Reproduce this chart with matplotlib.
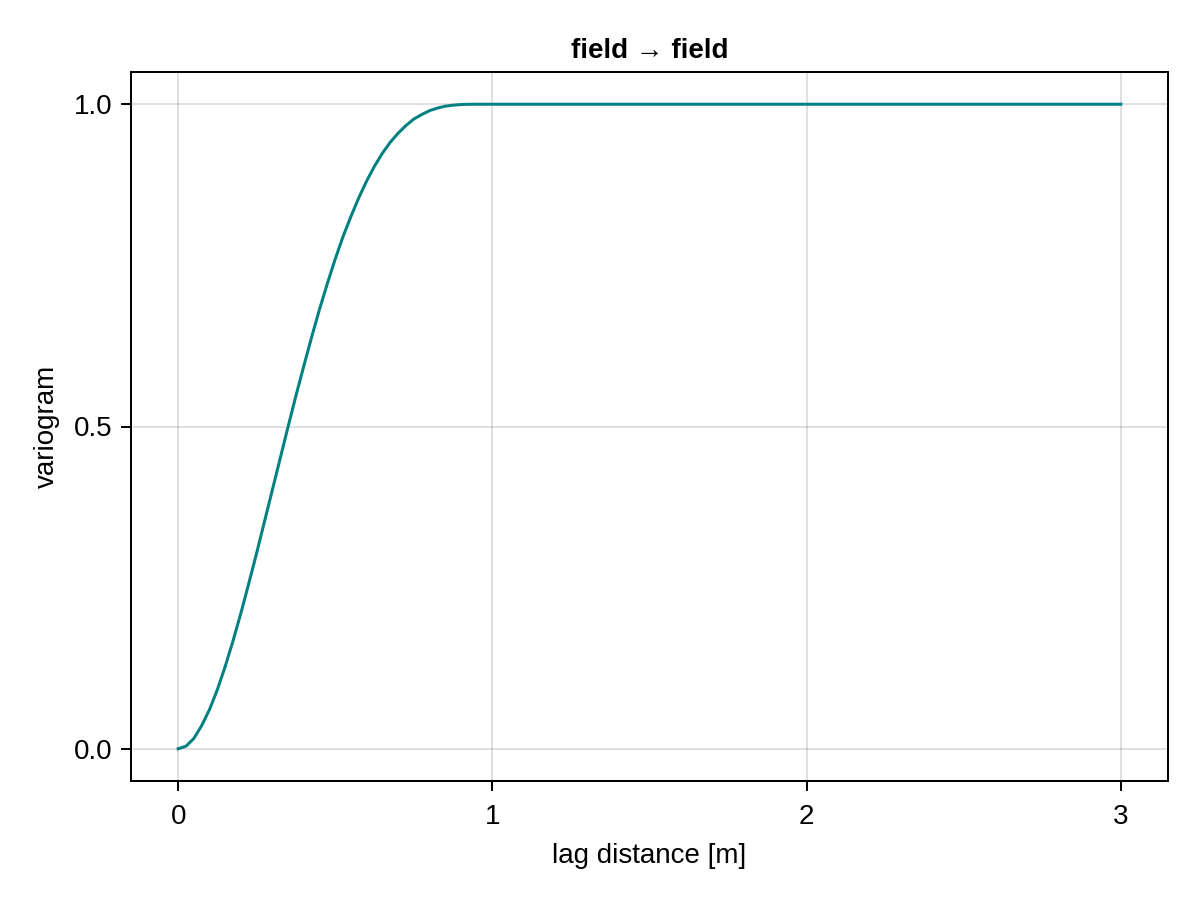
import matplotlib
matplotlib.use("Agg")
import matplotlib.pyplot as plt

plt.rcParams['font.family'] = ['Liberation Sans', 'DejaVu Sans']

# values
lag = [0.0, 0.025, 0.05, 0.075, 0.10, 0.125, 0.15, 0.175, 0.20, 0.225, 0.25,
       0.275, 0.30, 0.325, 0.35, 0.375, 0.40, 0.425, 0.45, 0.475, 0.50,
       0.525, 0.55, 0.575, 0.60, 0.625, 0.65, 0.675, 0.70, 0.725, 0.75,
       0.775, 0.80, 0.825, 0.85, 0.875, 0.90, 0.925, 0.95, 1.0, 2.0, 3.0]
gamma = [0.0, 0.004, 0.016, 0.036, 0.061, 0.092, 0.128, 0.168, 0.211, 0.257, 0.304,
         0.353, 0.402, 0.451, 0.500, 0.548, 0.594, 0.639, 0.682, 0.722, 0.760,
         0.795, 0.826, 0.855, 0.881, 0.904, 0.924, 0.941, 0.955, 0.967, 0.977,
         0.984, 0.990, 0.994, 0.997, 0.9985, 0.9995, 0.9999, 1.0, 1.0, 1.0, 1.0]
xticks = [0, 1, 2, 3]
yticks = [0.0, 0.5, 1.0]
ytick_labels = ["0.0", "0.5", "1.0"]

fig = plt.figure(figsize=(12, 9), dpi=100)
ax = fig.add_axes([131/1200, 1 - 781/900, (1168-131)/1200, (781-72)/900])

ax.plot(lag, gamma, color="#008080", lw=2.16, solid_joinstyle="round")

ax.set_xlim(-0.15, 3.15)
ax.set_ylim(-0.05, 1.05)
ax.set_xticks(xticks)
ax.set_xticklabels([str(t) for t in xticks])
ax.set_yticks(yticks)
ax.set_yticklabels(ytick_labels)

ax.grid(True, color="black", alpha=0.12, lw=1.44)
ax.set_axisbelow(True)
for s in ax.spines.values():
    s.set_linewidth(1.44)
ax.tick_params(direction="out", length=7.2, width=1.44, labelsize=20)
ax.tick_params(axis="x", pad=9)
ax.tick_params(axis="y", pad=6)

ax.set_xlabel("lag distance [m]", fontsize=20, labelpad=10)
ax.set_ylabel("variogram", fontsize=20, labelpad=10)
ax.set_title("field → field", fontsize=20, fontweight="bold", pad=10)

fig.savefig("out.png", dpi=100)
